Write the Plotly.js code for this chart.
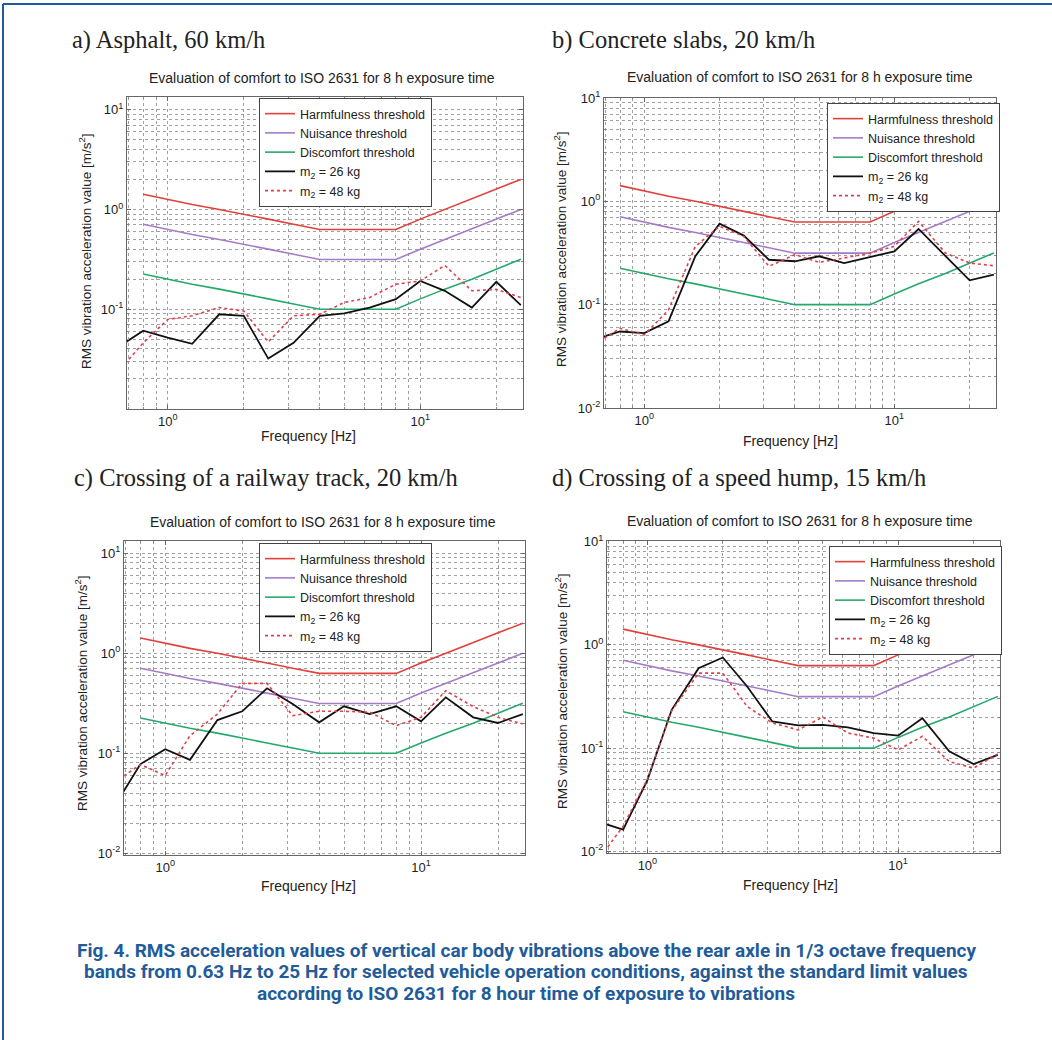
<!DOCTYPE html>
<html>
<head>
<meta charset="utf-8">
<script src="https://cdn.plot.ly/plotly-3.0.1.min.js"></script>
<style>
html,body{margin:0;padding:0;background:#fff;}
#chart{width:1052px;height:1040px;}
</style>
</head>
<body>
<div id="chart"></div>
<script>
// ---------- DATA ----------
const freqBands = [0.63, 0.8, 1, 1.25, 1.6, 2, 2.5, 3.15, 4, 5, 6.3, 8, 10, 12.5, 16, 20, 25];
const thresholdFreqs = [0.8, 1, 1.25, 1.6, 2, 2.5, 3.15, 4, 5, 6.3, 8, 10, 12.5, 16, 20, 25];

const harmfulness = [1.42, 1.26, 1.12, 1.0, 0.9, 0.8, 0.71, 0.63, 0.63, 0.63, 0.63, 0.8, 1.0, 1.26, 1.6, 2.0];
const nuisance    = [0.71, 0.63, 0.56, 0.5, 0.45, 0.4, 0.355, 0.315, 0.315, 0.315, 0.315, 0.4, 0.5, 0.63, 0.8, 1.0];
const discomfort  = [0.225, 0.2, 0.178, 0.159, 0.143, 0.127, 0.113, 0.1, 0.1, 0.1, 0.1, 0.127, 0.159, 0.2, 0.254, 0.317];

const asphalt26  = [0.041, 0.061, 0.052, 0.045, 0.089, 0.086, 0.032, 0.046, 0.086, 0.091, 0.104, 0.126, 0.192, 0.153, 0.104, 0.188, 0.110];
const asphalt48  = [0.023, 0.046, 0.079, 0.086, 0.104, 0.096, 0.047, 0.086, 0.089, 0.117, 0.131, 0.178, 0.192, 0.275, 0.153, 0.158, 0.131];

const concrete26 = [0.046, 0.055, 0.053, 0.069, 0.294, 0.608, 0.466, 0.272, 0.263, 0.294, 0.253, 0.289, 0.328, 0.540, 0.294, 0.172, 0.195];
const concrete48 = [0.041, 0.059, 0.051, 0.089, 0.367, 0.573, 0.458, 0.235, 0.305, 0.257, 0.283, 0.316, 0.367, 0.640, 0.316, 0.253, 0.238];

const railway26  = [0.029, 0.078, 0.110, 0.086, 0.215, 0.263, 0.447, 0.311, 0.204, 0.295, 0.247, 0.295, 0.209, 0.363, 0.229, 0.201, 0.247];
const railway48  = [0.051, 0.077, 0.060, 0.150, 0.247, 0.500, 0.500, 0.238, 0.263, 0.263, 0.258, 0.189, 0.229, 0.423, 0.293, 0.229, 0.197];

const hump26     = [0.0195, 0.0162, 0.049, 0.235, 0.594, 0.754, 0.395, 0.181, 0.166, 0.168, 0.159, 0.140, 0.132, 0.195, 0.093, 0.070, 0.086];
const hump48     = [0.008, 0.0175, 0.050, 0.230, 0.532, 0.532, 0.253, 0.175, 0.150, 0.200, 0.140, 0.125, 0.096, 0.130, 0.074, 0.064, 0.088];

const seriesNames = ['Harmfulness threshold', 'Nuisance threshold', 'Discomfort threshold', 'm<sub>2</sub> = 26 kg', 'm<sub>2</sub> = 48 kg'];

const panelTitles = ['a) Asphalt, 60 km/h', 'b) Concrete slabs, 20 km/h', 'c) Crossing of a railway track, 20 km/h', 'd) Crossing of a speed hump, 15 km/h'];
const plotSubtitle = 'Evaluation of comfort to ISO 2631 for 8 h exposure time';
const xAxisTitle = 'Frequency [Hz]';
const yAxisTitle = 'RMS vibration acceleration value [m/s<sup>2</sup>]';

// labelled (major) ticks
const xMajorVals = [1, 10];
const xTickLabels = ['10<sup>0</sup>', '10<sup>1</sup>'];
const yMajorVals = [0.01, 0.1, 1, 10];
const yTickLabels = ['10<sup>-2</sup>', '10<sup>-1</sup>', '10<sup>0</sup>', '10<sup>1</sup>'];
const yTickLabelsA = ['', '10<sup>-1</sup>', '10<sup>0</sup>', '10<sup>1</sup>'];
// unlabelled (minor) grid positions
const xMinorVals = [0.7, 0.8, 0.9, 2, 3, 4, 5, 6, 7, 8, 9, 20];
const yMinorVals = [0.02, 0.03, 0.04, 0.05, 0.06, 0.07, 0.08, 0.09, 0.2, 0.3, 0.4, 0.5, 0.6, 0.7, 0.8, 0.9, 2, 3, 4, 5, 6, 7, 8, 9];

const captionLines = [
  'Fig. 4. RMS acceleration values of vertical car body vibrations above the rear axle in 1/3 octave frequency',
  'bands from 0.63 Hz to 25 Hz for selected vehicle operation conditions, against the standard limit values',
  'according to ISO 2631 for 8 hour time of exposure to vibrations'
];

// ---------- LAYOUT ----------
const W = 1052, H = 1040;
const SANS = 'Liberation Sans, Arial, sans-serif';
const SERIF = 'Liberation Serif, Times New Roman, serif';
const px = v => v / W;
const py = v => 1 - v / H;

const panels = [
  {m26: asphalt26, m48: asphalt48, yticks: yTickLabelsA, box: {l:127, r:523, t:97, b:409}, yr:[-2, 1.127],
   title:{x:70, y:40}, sub:{x:322, y:78}, ytl:{x:85, y:251}, xtl:{x:308, y:436}, leg:{x:259, y:98}},
  {m26: concrete26, m48: concrete48, yticks: yTickLabels, box: {l:604, r:996, t:98, b:408}, yr:[-2, 1.0],
   title:{x:550, y:40}, sub:{x:800, y:77}, ytl:{x:560, y:249}, xtl:{x:790, y:441}, leg:{x:827, y:103}},
  {m26: railway26, m48: railway48, yticks: yTickLabels, box: {l:124, r:525, t:541, b:855}, yr:[-2.017, 1.123],
   title:{x:72, y:478}, sub:{x:323, y:522}, ytl:{x:81, y:693}, xtl:{x:308, y:886}, leg:{x:259, y:543}},
  {m26: hump26, m48: hump48, yticks: yTickLabels, box: {l:607, r:1000, t:541, b:853}, yr:[-2.016, 1.006],
   title:{x:550, y:478}, sub:{x:800, y:521}, ytl:{x:561, y:691}, xtl:{x:790, y:885}, leg:{x:829, y:546}}
];

const colors = {harm:'#e2403a', nuis:'#a57bc8', disc:'#25a96b', m26:'#111111', m48:'#e0404a'};

const traces = [];
const layout = {
  width: W, height: H,
  margin: {l:0, r:0, t:0, b:0},
  paper_bgcolor: '#ffffff',
  plot_bgcolor: '#ffffff',
  font: {family: SANS, color: '#222'},
  showlegend: true,
  annotations: [],
  shapes: [
    {type:'line', xref:'paper', yref:'paper', x0:px(3), x1:1, y0:py(4), y1:py(4), line:{color:'#1f5c99', width:2}},
    {type:'line', xref:'paper', yref:'paper', x0:px(3), x1:px(3), y0:py(4), y1:0, line:{color:'#1f5c99', width:2}}
  ]
};

const GRID = {color:'#a0a0a0', dash:'dot'};

panels.forEach((p, i) => {
  const n = i === 0 ? '' : String(i + 1);
  const xa = 'x' + n, ya = 'y' + n, lg = 'legend' + n;
  const common = {type:'scatter', mode:'lines', xaxis:xa, yaxis:ya, legend:lg, hoverinfo:'skip'};
  traces.push(Object.assign({}, common, {x: thresholdFreqs, y: harmfulness, name: seriesNames[0], line:{color:colors.harm, width:1.6}}));
  traces.push(Object.assign({}, common, {x: thresholdFreqs, y: nuisance, name: seriesNames[1], line:{color:colors.nuis, width:1.6}}));
  traces.push(Object.assign({}, common, {x: thresholdFreqs, y: discomfort, name: seriesNames[2], line:{color:colors.disc, width:1.6}}));
  traces.push(Object.assign({}, common, {x: freqBands, y: p.m26, name: seriesNames[3], line:{color:colors.m26, width:1.8}}));
  traces.push(Object.assign({}, common, {x: freqBands, y: p.m48, name: seriesNames[4], line:{color:colors.m48, width:1.6, dash:'dot'}}));

  const axisCommon = {
    type:'log', tickmode:'array', ticks:'inside', ticklen:4, tickcolor:'#666',
    showgrid:true, gridcolor:GRID.color, griddash:GRID.dash, gridwidth:1,
    showline:true, linecolor:'#666', linewidth:1, mirror:'ticks', zeroline:false,
    tickfont:{size:13, family:SANS, color:'#222'}, fixedrange:true
  };
  const minorCommon = {ticks:'inside', ticklen:2, tickcolor:'#888', showgrid:true, gridcolor:GRID.color, griddash:GRID.dash, gridwidth:1, tickmode:'array'};
  layout['xaxis' + n] = Object.assign({}, axisCommon, {
    domain:[px(p.box.l), px(p.box.r)], anchor: ya,
    range:[Math.log10(0.69), Math.log10(25.5)],
    tickvals: xMajorVals, ticktext: xTickLabels,
    minor: Object.assign({}, minorCommon, {tickvals: xMinorVals})
  });
  layout['yaxis' + n] = Object.assign({}, axisCommon, {
    domain:[py(p.box.b), py(p.box.t)], anchor: xa,
    range: p.yr, tickvals: yMajorVals, ticktext: p.yticks,
    minor: Object.assign({}, minorCommon, {tickvals: yMinorVals})
  });
  layout[lg] = {
    x: px(p.leg.x), y: py(p.leg.y), xanchor:'left', yanchor:'top', xref:'paper', yref:'paper',
    bgcolor:'#ffffff', bordercolor:'#444', borderwidth:1,
    font:{size:12.5, family:SANS, color:'#222'}, tracegroupgap:0, itemwidth:30
  };

  layout.annotations.push(
    {xref:'paper', yref:'paper', x:px(p.title.x), y:py(p.title.y), xanchor:'left', yanchor:'middle', showarrow:false,
     text: panelTitles[i], font:{family:SERIF, size:24.5, color:'#222'}},
    {xref:'paper', yref:'paper', x:px(p.sub.x), y:py(p.sub.y), xanchor:'center', yanchor:'middle', showarrow:false,
     text: plotSubtitle, font:{family:SANS, size:14, color:'#222'}},
    {xref:'paper', yref:'paper', x:px(p.ytl.x), y:py(p.ytl.y), xanchor:'center', yanchor:'middle', showarrow:false,
     textangle:-90, text: yAxisTitle, font:{family:SANS, size:13.5, color:'#222'}},
    {xref:'paper', yref:'paper', x:px(p.xtl.x), y:py(p.xtl.y), xanchor:'center', yanchor:'middle', showarrow:false,
     text: xAxisTitle, font:{family:SANS, size:14, color:'#222'}}
  );
});

const captionY = [950, 971, 993];
captionLines.forEach((t, k) => {
  layout.annotations.push({xref:'paper', yref:'paper', x:px(526), y:py(captionY[k]), xanchor:'center', yanchor:'middle',
    showarrow:false, text:'<b>' + t + '</b>', font:{family:'Roboto, sans-serif', size:19, color:'#1f5c99'}});
});

Plotly.newPlot('chart', traces, layout, {displayModeBar:false, staticPlot:true});
</script>
</body>
</html>
